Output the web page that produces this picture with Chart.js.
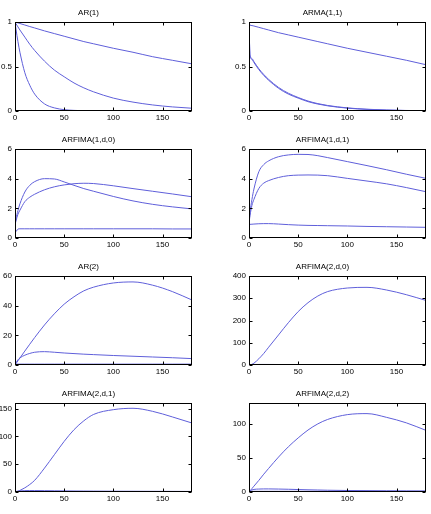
<!DOCTYPE html>
<html>
<head>
<meta charset="utf-8">
<script src="https://cdn.jsdelivr.net/npm/chart.js@4/dist/chart.umd.min.js"></script>
<style>
  html, body { margin: 0; padding: 0; background: #fff; overflow: hidden; }
  #wrap { position: relative; width: 431px; height: 514px; }
  canvas { position: absolute; }
</style>
</head>
<body>
<div id="wrap"></div>
<script>
const lags = [0, 1, 3, 5, 10, 15, 20, 30, 40, 50, 60, 70, 80, 100, 120, 140, 160, 180];
const xTicks = [0, 50, 100, 150];
const xMax = 180;

// AR(1)
const ar1Slow = [1, 0.997, 0.99, 0.983, 0.966, 0.949, 0.933, 0.90, 0.87, 0.84, 0.81, 0.78, 0.755, 0.705, 0.66, 0.61, 0.57, 0.53];
const ar1Mid = [1, 0.98, 0.945, 0.91, 0.83, 0.75, 0.68, 0.56, 0.46, 0.385, 0.315, 0.26, 0.215, 0.145, 0.10, 0.068, 0.046, 0.031];
const ar1Fast = [1, 0.92, 0.78, 0.66, 0.43, 0.29, 0.19, 0.08, 0.035, 0.015, 0.007, 0.003, 0.001, 0, 0, 0, 0, 0];

// ARMA(1,1)
const armaSlow = [1, 0.965, 0.96, 0.955, 0.94, 0.925, 0.91, 0.88, 0.855, 0.83, 0.805, 0.78, 0.755, 0.705, 0.66, 0.615, 0.57, 0.52];
const armaFastA = [1, 0.62, 0.58, 0.545, 0.465, 0.40, 0.345, 0.255, 0.19, 0.145, 0.105, 0.078, 0.058, 0.032, 0.018, 0.01, 0.005, 0.003];
const armaFastB = [1, 0.63, 0.59, 0.555, 0.475, 0.41, 0.355, 0.265, 0.20, 0.152, 0.112, 0.083, 0.062, 0.035, 0.02, 0.011, 0.006, 0.003];

// ARFIMA(1,d,0)
const f10Peak = [0.9, 1.3, 1.85, 2.3, 3.1, 3.55, 3.8, 4.0, 3.98, 3.78, 3.55, 3.33, 3.15, 2.8, 2.5, 2.27, 2.1, 1.96];
const f10Broad = [0.9, 1.15, 1.6, 1.87, 2.45, 2.75, 2.95, 3.25, 3.45, 3.58, 3.66, 3.69, 3.67, 3.52, 3.33, 3.15, 2.97, 2.78];
const f10Flat = [0.9, 0.45, 0.6, 0.62, 0.62, 0.62, 0.62, 0.62, 0.62, 0.62, 0.62, 0.62, 0.62, 0.62, 0.62, 0.62, 0.61, 0.61];

// ARFIMA(1,d,1)
const f11High = [1, 1.7, 2.6, 3.3, 4.47, 4.95, 5.2, 5.48, 5.6, 5.64, 5.63, 5.55, 5.42, 5.15, 4.88, 4.6, 4.3, 4.02];
const f11Mid = [1, 1.5, 2.2, 2.6, 3.34, 3.7, 3.87, 4.08, 4.2, 4.24, 4.25, 4.24, 4.2, 4.02, 3.84, 3.65, 3.4, 3.12];
const f11Low = [1, 0.92, 0.93, 0.94, 0.96, 0.97, 0.97, 0.94, 0.9, 0.87, 0.85, 0.84, 0.83, 0.81, 0.78, 0.76, 0.74, 0.72];

// AR(2)
const ar2High = [0, 0.95, 2.85, 4.7, 9.4, 14, 18.5, 27, 34.5, 41, 46, 50, 52.5, 55.3, 56, 53.8, 49.5, 43.8];
const ar2Mid = [0, 1.5, 3.5, 4.8, 6.6, 7.8, 8.6, 9.0, 8.6, 8.1, 7.7, 7.3, 7.0, 6.4, 5.9, 5.4, 4.9, 4.3];
const ar2Low = [0, 0.5, 0.6, 0.6, 0.6, 0.6, 0.6, 0.6, 0.6, 0.6, 0.6, 0.6, 0.6, 0.6, 0.6, 0.6, 0.6, 0.6];

// ARFIMA(2,d,0)
const f20High = [0, 0.4, 3, 8, 28, 52, 80, 135, 190, 240, 280, 310, 330, 346, 349, 337, 316, 290];
const f20LowA = [0, 1, 1.8, 2.2, 2.5, 2.5, 2.4, 2.2, 2, 1.9, 1.8, 1.7, 1.6, 1.5, 1.4, 1.3, 1.2, 1.1];
const f20LowB = [0, 0.4, 0.5, 0.5, 0.5, 0.5, 0.5, 0.5, 0.5, 0.5, 0.5, 0.5, 0.5, 0.5, 0.5, 0.5, 0.5, 0.5];

// ARFIMA(2,d,1)
const f21High = [0, 0.2, 1.2, 2.8, 7.5, 13.5, 21, 43, 67, 91, 112, 128, 139.5, 148, 150.5, 145, 135, 124];
const f21LowA = [0, 1, 1.5, 2, 2.5, 2.6, 2.6, 2.4, 2.2, 2, 1.8, 1.7, 1.6, 1.4, 1.3, 1.2, 1.1, 1.0];
const f21LowB = [0, 0.4, 0.5, 0.5, 0.5, 0.5, 0.5, 0.5, 0.5, 0.5, 0.5, 0.5, 0.5, 0.5, 0.5, 0.5, 0.5, 0.5];

// ARFIMA(2,d,2)
const f22High = [0, 1.7, 5, 8.5, 17, 26, 34.5, 51, 66, 79, 90.5, 99.5, 106, 113, 114.5, 109, 101, 90];
const f22Bump = [0, 1.5, 3, 3.8, 4.3, 4.5, 4.5, 4.3, 4, 3.6, 3.2, 2.9, 2.6, 2.2, 2, 1.8, 1.6, 1.5];
const f22Low = [0, 0.8, 1, 1, 1, 1, 1, 1, 1, 1, 1, 1, 1, 1, 1, 1, 1, 1];

const LINE = 'rgb(95,95,218)';
const FONT = { family: '"Liberation Sans", Arial, sans-serif', size: 8 };
const Y_W = 30;     // space kept left of the plot for y labels
const TITLE_H = 14; // title box height
const X_H = 16;     // space under the plot for x labels
const PLOT_W = 177;
const PLOT_H = 89;

const panels = [
  { title: 'AR(1)', series: [ar1Slow, ar1Mid, ar1Fast], yMax: 1, yTicks: [0, 0.5, 1], left: 15, top: 22 },
  { title: 'ARMA(1,1)', series: [armaSlow, armaFastA, armaFastB], yMax: 1, yTicks: [0, 0.5, 1], left: 249, top: 22 },
  { title: 'ARFIMA(1,d,0)', series: [f10Peak, f10Broad, f10Flat], yMax: 6, yTicks: [0, 2, 4, 6], left: 15, top: 149 },
  { title: 'ARFIMA(1,d,1)', series: [f11High, f11Mid, f11Low], yMax: 6, yTicks: [0, 2, 4, 6], left: 249, top: 149 },
  { title: 'AR(2)', series: [ar2High, ar2Mid, ar2Low], yMax: 60, yTicks: [0, 20, 40, 60], left: 15, top: 276 },
  { title: 'ARFIMA(2,d,0)', series: [f20High, f20LowA, f20LowB], yMax: 400, yTicks: [0, 100, 200, 300, 400], left: 249, top: 276 },
  { title: 'ARFIMA(2,d,1)', series: [f21High, f21LowA, f21LowB], yMax: 160, yTicks: [0, 50, 100, 150], left: 15, top: 403 },
  { title: 'ARFIMA(2,d,2)', series: [f22High, f22Bump, f22Low], yMax: 130, yTicks: [0, 50, 100], left: 249, top: 403 }
];

// MATLAB-like box with inward ticks on all four sides
const boxTicks = {
  id: 'boxTicks',
  afterDatasetsDraw(chart) {
    const { ctx, chartArea: a, scales } = chart;
    const L = Math.round(a.left) + 0.5, R = Math.round(a.right) - 0.5;
    const T = Math.round(a.top) + 0.5, B = Math.round(a.bottom) - 0.5;
    const len = 3;
    ctx.save();
    ctx.strokeStyle = '#000';
    ctx.lineWidth = 1;
    ctx.strokeRect(L, T, R - L, B - T);
    ctx.beginPath();
    scales.x.ticks.forEach(t => {
      const px = Math.round(scales.x.getPixelForValue(t.value)) + 0.5;
      ctx.moveTo(px, B); ctx.lineTo(px, B - len);
      ctx.moveTo(px, T); ctx.lineTo(px, T + len);
    });
    scales.y.ticks.forEach(t => {
      const py = Math.round(scales.y.getPixelForValue(t.value)) + 0.5;
      ctx.moveTo(L, py); ctx.lineTo(L + len, py);
      ctx.moveTo(R, py); ctx.lineTo(R - len, py);
    });
    ctx.stroke();
    ctx.restore();
  }
};

function makePanel(p) {
  const canvas = document.createElement('canvas');
  const w = Y_W + PLOT_W + 2;
  const h = TITLE_H + PLOT_H + X_H;
  canvas.width = w;
  canvas.height = h;
  canvas.style.width = w + 'px';
  canvas.style.height = h + 'px';
  canvas.style.left = (p.left - Y_W) + 'px';
  canvas.style.top = (p.top - TITLE_H) + 'px';
  document.getElementById('wrap').appendChild(canvas);

  new Chart(canvas, {
    type: 'line',
    data: {
      datasets: p.series.map(vals => ({
        data: lags.map((x, i) => ({ x: x, y: vals[i] })),
        borderColor: LINE,
        borderWidth: 1,
        pointRadius: 0,
        fill: false,
        cubicInterpolationMode: 'monotone'
      }))
    },
    options: {
      responsive: false,
      animation: false,
      devicePixelRatio: 1,
      layout: { padding: { left: 0, right: 2, top: 0, bottom: 0 } },
      plugins: {
        legend: { display: false },
        tooltip: { enabled: false },
        title: {
          display: true,
          text: p.title,
          color: '#000',
          font: { family: FONT.family, size: 8, weight: 'normal', lineHeight: 1.25 },
          padding: { top: 0, bottom: 4 }
        }
      },
      scales: {
        x: {
          type: 'linear',
          min: 0,
          max: xMax,
          grid: { display: false, drawTicks: false },
          border: { display: false },
          ticks: { font: FONT, color: '#000', padding: 2, maxRotation: 0, autoSkip: false, callback: v => String(v) },
          afterBuildTicks: s => { s.ticks = xTicks.map(v => ({ value: v })); },
          afterFit: s => { s.height = X_H; }
        },
        y: {
          type: 'linear',
          min: 0,
          max: p.yMax,
          grid: { display: false, drawTicks: false },
          border: { display: false },
          ticks: { font: FONT, color: '#000', padding: 3, autoSkip: false, callback: v => String(v) },
          afterBuildTicks: s => { s.ticks = p.yTicks.map(v => ({ value: v })); },
          afterFit: s => { s.width = Y_W; }
        }
      }
    },
    plugins: [boxTicks]
  });
}

panels.forEach(makePanel);
</script>
</body>
</html>
